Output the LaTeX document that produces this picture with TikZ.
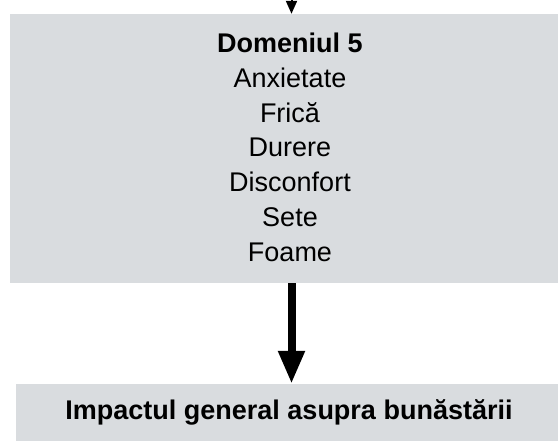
\documentclass[tikz,border=0pt]{standalone}
\usepackage{fontspec}
\setmainfont{Liberation Sans}
\usetikzlibrary{arrows.meta}
\definecolor{boxgray}{RGB}{217,220,223}
\tikzset{
  gbox/.style={draw=none, fill=boxgray, rectangle, inner sep=0pt},
  boxtext/.style={align=center, inner sep=0pt, font=\fontsize{27}{34.7}\selectfont},
  bigarrow/.style={line width=8pt, -{Triangle[width=25pt,length=33pt]}},
  smallarrow/.style={line width=2pt, -{Triangle[width=11pt,length=13pt]}}
}
\begin{document}
\begin{tikzpicture}[x=1pt,y=-1pt]
\useasboundingbox (0,0) rectangle (558,440);
\clip (0,0) rectangle (558,440);
\node[gbox, minimum width=560pt, minimum height=269pt] (d5) at (290,148.5) {};
\node[gbox, minimum width=548pt, minimum height=64pt] (imp) at (290,416) {};
\node[boxtext, anchor=base] (d5t) at (290,261) {\textbf{Domeniul 5}\\Anxietate\\Frică\\Durere\\Disconfort\\Sete\\Foame};
\node[boxtext, anchor=base, font=\fontsize{27}{34.7}\selectfont\bfseries] (impt) at (289,419) {Impactul general asupra bunăstării};
\coordinate (topin) at (291.5,-6);
\draw[smallarrow] (topin) -- (topin |- d5.north);
\draw[bigarrow] ([xshift=1.5pt]d5.south) -- ([xshift=1.5pt]imp.north);
\end{tikzpicture}
\end{document}
